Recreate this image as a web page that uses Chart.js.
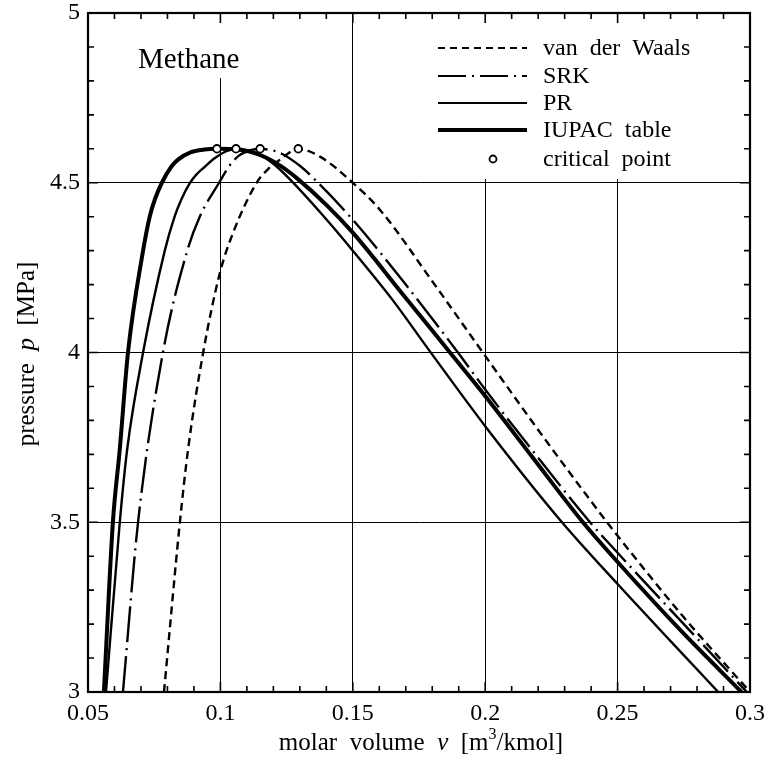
<!DOCTYPE html>
<html>
<head>
<meta charset="utf-8">
<script src="https://cdn.jsdelivr.net/npm/chart.js@4"></script>
<style>
  html, body { margin: 0; padding: 0; background: #fff; }
  #wrap { width: 766px; height: 760px; }
</style>
</head>
<body>
<div id="wrap"><canvas id="c" width="766" height="760"></canvas></div>
<script>
// molar volume v [m3/kmol] and pressure p [MPa] along each saturation dome
const vdwV = [0.0787, 0.0847, 0.0878, 0.0935, 0.0998, 0.1048, 0.1137, 0.1180, 0.1225, 0.1294, 0.1376, 0.150, 0.1603, 0.180, 0.200, 0.223, 0.246, 0.250, 0.275, 0.300];
const vdwP = [3.00, 3.50, 3.715, 4.00, 4.234, 4.353, 4.50, 4.54, 4.568, 4.60, 4.577, 4.50, 4.42, 4.21, 3.99, 3.74, 3.50, 3.46, 3.22, 3.00];

const srkV = [0.0632, 0.0689, 0.0783, 0.0875, 0.0922, 0.0995, 0.1036, 0.1070, 0.1110, 0.115, 0.1185, 0.122, 0.130, 0.1357, 0.150, 0.170, 0.1897, 0.200, 0.220, 0.2396, 0.250, 0.275, 0.2988];
const srkP = [3.00, 3.50, 4.00, 4.30, 4.40, 4.50, 4.552, 4.580, 4.595, 4.60, 4.597, 4.59, 4.55, 4.509, 4.391, 4.20, 4.00, 3.891, 3.69, 3.50, 3.41, 3.20, 3.00];

const prV = [0.0568, 0.0620, 0.0648, 0.0708, 0.0790, 0.0827, 0.0852, 0.0884, 0.0909, 0.0941, 0.0978, 0.1020, 0.1059, 0.110, 0.115, 0.120, 0.126, 0.138, 0.150, 0.165, 0.1785, 0.200, 0.229, 0.250, 0.270, 0.288];
const prP = [3.00, 3.50, 3.715, 4.00, 4.30, 4.40, 4.45, 4.498, 4.524, 4.547, 4.572, 4.592, 4.60, 4.596, 4.582, 4.556, 4.512, 4.41, 4.30, 4.155, 4.01, 3.783, 3.50, 3.318, 3.15, 3.00];

const iupacV = [0.0560, 0.0594, 0.0620, 0.0651, 0.0708, 0.0733, 0.0752, 0.0779, 0.0815, 0.0840, 0.0889, 0.0940, 0.0987, 0.1050, 0.1110, 0.1170, 0.1230, 0.1294, 0.1400, 0.1500, 0.1680, 0.1867, 0.2000, 0.2180, 0.2369, 0.2500, 0.2740, 0.2968];
const iupacP = [3.00, 3.50, 3.715, 4.00, 4.30, 4.40, 4.45, 4.50, 4.548, 4.568, 4.59, 4.598, 4.60, 4.599, 4.592, 4.575, 4.548, 4.51, 4.435, 4.353, 4.18, 4.00, 3.872, 3.69, 3.50, 3.383, 3.18, 3.00];

const critV = [0.0987, 0.1059, 0.1150, 0.1294];
const critP = [4.60, 4.60, 4.60, 4.60];

const xTicks = [0.05, 0.1, 0.15, 0.2, 0.25, 0.3];
const yTicks = [3, 3.5, 4, 4.5, 5];

const legendLabels = ['van  der  Waals', 'SRK', 'PR', 'IUPAC  table', 'critical  point'];

const SERIF = '"Liberation Serif", "DejaVu Serif", serif';

function pts(xs, ys) {
    return xs.map((x, i) => ({ x: x, y: ys[i] }));
}

const lineBase = {
    showLine: true,
    pointRadius: 0,
    borderColor: '#000',
    backgroundColor: '#000',
    fill: false,
    cubicInterpolationMode: 'monotone',
    order: 1
};

const datasets = [
    { label: 'critical point', data: pts(critV, critP), showLine: false, pointRadius: 3.8,
      pointBorderWidth: 1.8, pointBorderColor: '#000', pointBackgroundColor: '#fff', order: 0 },
    Object.assign({}, lineBase, { label: 'van der Waals', data: pts(vdwV, vdwP), borderWidth: 2.4, borderDash: [8, 5] }),
    Object.assign({}, lineBase, { label: 'SRK', data: pts(srkV, srkP), borderWidth: 2.4, borderDash: [36, 6, 2, 6] }),
    Object.assign({}, lineBase, { label: 'PR', data: pts(prV, prP), borderWidth: 2.4 }),
    Object.assign({}, lineBase, { label: 'IUPAC table', data: pts(iupacV, iupacP), borderWidth: 4 })
];

// frame, inner minor ticks, legend and titles
const decor = {
    id: 'decor',
    beforeDatasetsDraw(chart) {
        const ctx = chart.ctx;
        ctx.save();
        ctx.fillStyle = '#fff';
        ctx.fillRect(430, 14, 318, 165);   // legend area hides grid
        ctx.fillRect(128, 22, 125, 56);    // behind "Methane"
        ctx.restore();
    },
    afterDraw(chart) {
        const ctx = chart.ctx;
        const a = chart.chartArea;
        const xs = chart.scales.x, ys = chart.scales.y;
        ctx.save();
        ctx.strokeStyle = '#000';
        ctx.lineWidth = 2.2;
        ctx.strokeRect(a.left, a.top, a.right - a.left, a.bottom - a.top);

        ctx.lineWidth = 1.6;
        ctx.beginPath();
        for (let i = 5; i <= 30; i++) {
            const px = xs.getPixelForValue(i / 100);
            const len = i % 5 === 0 ? 10 : 6;
            ctx.moveTo(px, a.bottom); ctx.lineTo(px, a.bottom - len);
            ctx.moveTo(px, a.top); ctx.lineTo(px, a.top + len);
        }
        for (let i = 30; i <= 50; i++) {
            const py = ys.getPixelForValue(i / 10);
            const len = i % 5 === 0 ? 10 : 6;
            ctx.moveTo(a.left, py); ctx.lineTo(a.left + len, py);
            ctx.moveTo(a.right, py); ctx.lineTo(a.right - len, py);
        }
        ctx.stroke();

        // legend
        const rows = [48, 76, 103, 130, 159];
        const styles = [
            { w: 2.2, dash: [7, 5] },
            { w: 2.2, dash: [28, 6, 2, 6] },
            { w: 2.2, dash: [] },
            { w: 3.8, dash: [] }
        ];
        styles.forEach((s, i) => {
            ctx.lineWidth = s.w;
            ctx.setLineDash(s.dash);
            ctx.beginPath();
            ctx.moveTo(438, rows[i]);
            ctx.lineTo(527, rows[i]);
            ctx.stroke();
        });
        ctx.setLineDash([]);
        ctx.lineWidth = 1.8;
        ctx.fillStyle = '#fff';
        ctx.beginPath();
        ctx.arc(493, rows[4], 3.5, 0, Math.PI * 2);
        ctx.fill();
        ctx.stroke();

        ctx.fillStyle = '#000';
        ctx.font = '24px ' + SERIF;
        ctx.textBaseline = 'alphabetic';
        ctx.textAlign = 'left';
        legendLabels.forEach((t, i) => ctx.fillText(t, 543, rows[i] + 7));

        ctx.font = '29px ' + SERIF;
        ctx.fillText('Methane', 138, 68);

        // x title with italic v and superscript
        const parts = [
            { t: 'molar  volume  ', f: '25px ' + SERIF, dy: 0 },
            { t: 'v', f: 'italic 25px ' + SERIF, dy: 0 },
            { t: '  [m', f: '25px ' + SERIF, dy: 0 },
            { t: '3', f: '16px ' + SERIF, dy: -11 },
            { t: '/kmol]', f: '25px ' + SERIF, dy: 0 }
        ];
        drawParts(ctx, parts, 421, 750);

        ctx.translate(34, 354);
        ctx.rotate(-Math.PI / 2);
        drawParts(ctx, [
            { t: 'pressure  ', f: '25px ' + SERIF, dy: 0 },
            { t: 'p', f: 'italic 25px ' + SERIF, dy: 0 },
            { t: '  [MPa]', f: '25px ' + SERIF, dy: 0 }
        ], 0, 0);
        ctx.restore();
    }
};

function drawParts(ctx, parts, cx, baseY) {
    let total = 0;
    parts.forEach(p => { ctx.font = p.f; p.w = ctx.measureText(p.t).width; total += p.w; });
    let x = cx - total / 2;
    ctx.textAlign = 'left';
    parts.forEach(p => {
        ctx.font = p.f;
        ctx.fillText(p.t, x, baseY + p.dy);
        x += p.w;
    });
}

new Chart(document.getElementById('c'), {
    type: 'scatter',
    data: { datasets: datasets },
    options: {
        responsive: false,
        animation: false,
        layout: { padding: { top: 13, right: 16, left: 0, bottom: 0 } },
        plugins: {
            legend: { display: false },
            tooltip: { enabled: false },
            title: { display: false }
        },
        scales: {
            x: {
                type: 'linear',
                min: 0.05,
                max: 0.3,
                afterBuildTicks: s => { s.ticks = xTicks.map(v => ({ value: v })); },
                afterFit: s => { s.height = 68; s.paddingLeft = 0; s.paddingRight = 0; },
                ticks: {
                    color: '#000',
                    font: { family: SERIF, size: 24 },
                    padding: 7,
                    maxRotation: 0,
                    callback: v => String(v)
                },
                grid: { color: '#000', lineWidth: 1, drawTicks: false },
                border: { color: '#000', width: 2 }
            },
            y: {
                type: 'linear',
                min: 3,
                max: 5,
                afterBuildTicks: s => { s.ticks = yTicks.map(v => ({ value: v })); },
                afterFit: s => { s.width = 88; s.paddingTop = 0; s.paddingBottom = 0; },
                ticks: {
                    color: '#000',
                    font: { family: SERIF, size: 24 },
                    padding: 8,
                    callback: v => String(v)
                },
                grid: { color: '#000', lineWidth: 1, drawTicks: false },
                border: { color: '#000', width: 2 }
            }
        }
    },
    plugins: [decor]
});
</script>
</body>
</html>
